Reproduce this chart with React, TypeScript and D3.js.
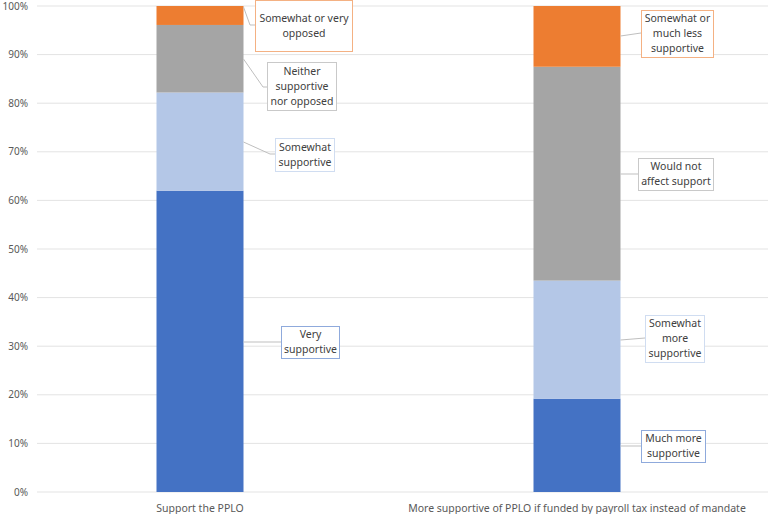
import * as d3 from 'd3';

const categories = ['Support the PPLO', 'More supportive of PPLO if funded by payroll tax instead of mandate'];

// stacked shares, bottom to top
const seriesColors = ['#4472c4', '#b4c7e7', '#a5a5a5', '#ed7d31'];
const boxBorders = ['#8faadc', '#d0ddf1', '#c9c9c9', '#f4b183'];
const supportValues = [62, 20.2, 13.9, 3.9];
const fundingValues = [19.2, 24.3, 44, 12.5];

const supportLabels = [['Very', 'supportive'], ['Somewhat', 'supportive'], ['Neither', 'supportive', 'nor opposed'], ['Somewhat or very', 'opposed']];
const fundingLabels = [['Much more', 'supportive'], ['Somewhat', 'more', 'supportive'], ['Would not', 'affect support'], ['Somewhat or', 'much less', 'supportive']];

const yTicks = [0, 10, 20, 30, 40, 50, 60, 70, 80, 90, 100];

// label box layout: [x, y, w, h, leaderStartY, elbowX, elbowY]
const supportBoxes = [
  [281, 326, 58, 32, 342, 281, 342],
  [275, 138, 59, 33, 142, 270, 154],
  [267, 62, 69, 48, 59, 263, 87],
  [255, 0, 97, 51, 7, 250, 25],
];
const fundingBoxes = [
  [641, 430, 64, 32, 446, 641, 446],
  [645, 315, 59, 47, 340, 645, 338],
  [638, 158, 75, 32, 174, 638, 174],
  [641, 10, 72, 47, 36, 641, 33],
];

const W = 768;
const H = 514;

export default function App() {
  const y = d3.scaleLinear().domain([0, 100]).range([492, 6]);
  const x = d3.scaleBand<string>().domain(categories).range([11.5, 765.5]);
  const barW = 87;
  const font = "'Noto Sans', 'Open Sans', sans-serif";

  const stacks = [supportValues, fundingValues];
  const labels = [supportLabels, fundingLabels];
  const boxes = [supportBoxes, fundingBoxes];

  return (
    <svg width={W} height={H} style={{ position: 'absolute', left: 0, top: 0, background: '#fff' }}>
      {yTicks.map((t) => (
        <g key={t}>
          <line x1={37} x2={W} y1={y(t)} y2={y(t)} stroke="#e3e3e3" strokeWidth={1} />
          <text x={28} y={y(t)} dy="0.35em" textAnchor="end" fontSize={10} fill="#595959" fontFamily={font}>
            {t}%
          </text>
        </g>
      ))}
      {categories.map((c, ci) => {
        const cx = (x(c) ?? 0) + x.bandwidth() / 2;
        const vals = stacks[ci];
        const cum = d3.cumsum(vals);
        return (
          <g key={c}>
            {vals.map((v, i) => {
              const y0 = i === 0 ? 0 : cum[i - 1];
              const y1 = cum[i];
              return (
                <rect
                  key={i}
                  x={cx - barW / 2}
                  y={y(y1)}
                  width={barW}
                  height={y(y0) - y(y1)}
                  fill={seriesColors[i]}
                />
              );
            })}
            {labels[ci].map((lines, i) => {
              const [bx, by, bw, bh, ly, ex, ey] = boxes[ci][i];
              const right = cx + barW / 2;
              const lineH = 15;
              const top = by + bh / 2 - ((lines.length - 1) * lineH) / 2;
              return (
                <g key={'l' + i}>
                  <polyline
                    points={`${right},${ly} ${ex},${ey} ${bx},${ey}`}
                    fill="none"
                    stroke="#bfbfbf"
                    strokeWidth={1}
                  />
                  <rect x={bx + 0.5} y={by + 0.5} width={bw} height={bh} fill="#fff" stroke={boxBorders[i]} strokeWidth={1} />
                  {lines.map((ln, k) => (
                    <text
                      key={k}
                      x={bx + bw / 2 + 0.5}
                      y={top + k * lineH}
                      dy="0.35em"
                      textAnchor="middle"
                      fontSize={10.5}
                      fill="#404040"
                      fontFamily={font}
                    >
                      {ln}
                    </text>
                  ))}
                </g>
              );
            })}
            <text x={cx} y={508} dy="0.35em" textAnchor="middle" fontSize={10.5} fill="#595959" fontFamily={font}>
              {c}
            </text>
          </g>
        );
      })}
    </svg>
  );
}
